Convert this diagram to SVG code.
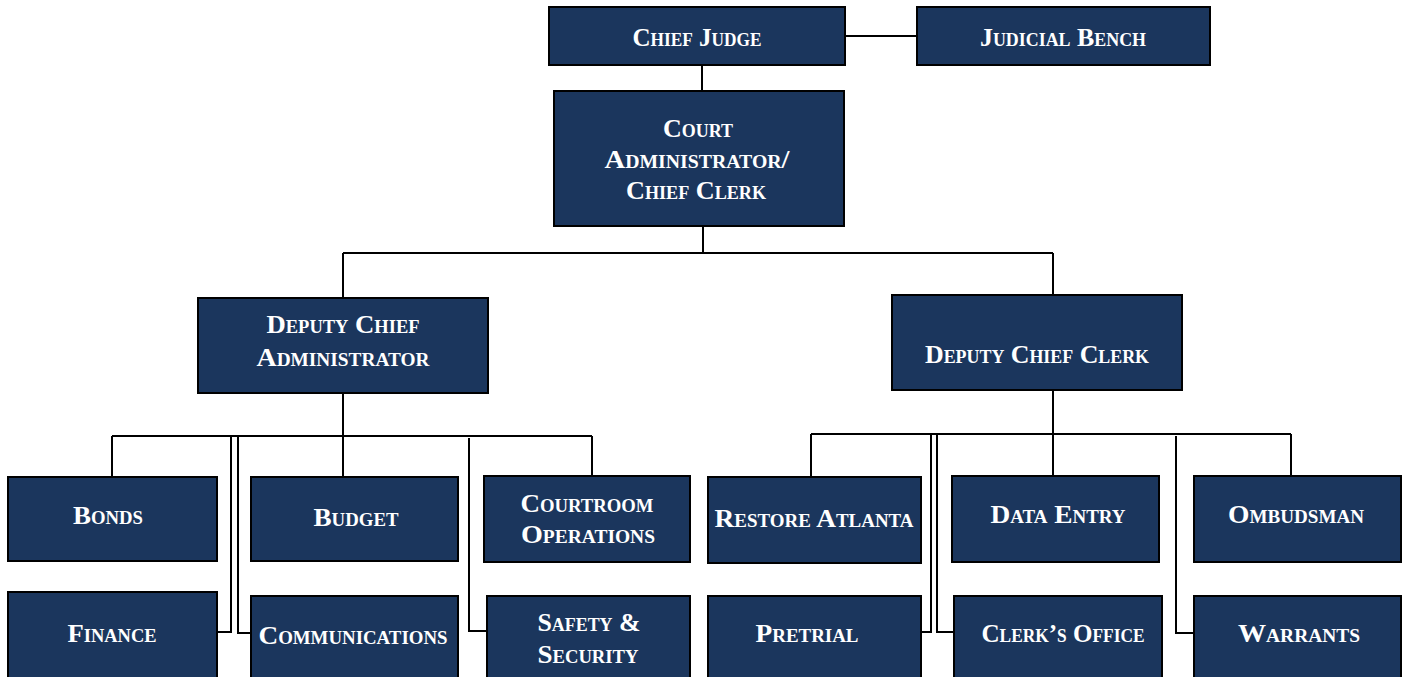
<svg xmlns="http://www.w3.org/2000/svg" width="1403" height="677" viewBox="0 0 1403 677">
<style>
.box{fill:#1b365d;stroke:#000;stroke-width:2}
.t{font-family:"Liberation Serif",serif;font-weight:bold;font-size:26px;font-variant:small-caps;fill:#fff;text-anchor:middle}
.c{fill:none;stroke:#000;stroke-width:2}
</style>
<rect width="1403" height="677" fill="#fff"/>
<g id="connectors">
<path class="c" d="M845 36H917"/>
<path class="c" d="M702 65V91"/>
<path class="c" d="M703 226V253"/>
<path class="c" d="M343 253H1053"/>
<path class="c" d="M343 253V298"/>
<path class="c" d="M1053 253V295"/>
<path class="c" d="M343 393V477"/>
<path class="c" d="M112 436H592"/>
<path class="c" d="M112 436V477"/>
<path class="c" d="M592 436V476"/>
<path class="c" d="M231 436V632H217"/>
<path class="c" d="M238 436V633H251"/>
<path class="c" d="M469 438V631H487"/>
<path class="c" d="M1053 390V476"/>
<path class="c" d="M811 434H1291"/>
<path class="c" d="M811 434V477"/>
<path class="c" d="M1291 434V476"/>
<path class="c" d="M931 434V632H921"/>
<path class="c" d="M937 434V632H954"/>
<path class="c" d="M1176 436V633H1194"/>
</g>
<g id="chief-judge"><rect class="box" x="549" y="7" width="296" height="58"/><text class="t" x="697" y="46" textLength="129" lengthAdjust="spacingAndGlyphs">Chief Judge</text></g>
<g id="judicial-bench"><rect class="box" x="917" y="7" width="293" height="58"/><text class="t" x="1063" y="46" textLength="166" lengthAdjust="spacingAndGlyphs">Judicial Bench</text></g>
<g id="court-administrator"><rect class="box" x="554" y="91" width="290" height="135"/>
<text class="t" x="698" y="137" textLength="70" lengthAdjust="spacingAndGlyphs">Court</text>
<text class="t" x="697" y="168" textLength="185" lengthAdjust="spacingAndGlyphs">Administrator/</text>
<text class="t" x="696" y="199" textLength="140" lengthAdjust="spacingAndGlyphs">Chief Clerk</text></g>
<g id="deputy-chief-administrator"><rect class="box" x="198" y="298" width="290" height="95"/>
<text class="t" x="343" y="333" textLength="153" lengthAdjust="spacingAndGlyphs">Deputy Chief</text>
<text class="t" x="343" y="366" textLength="173" lengthAdjust="spacingAndGlyphs">Administrator</text></g>
<g id="deputy-chief-clerk"><rect class="box" x="892" y="295" width="290" height="95"/>
<text class="t" x="1037" y="363" textLength="224" lengthAdjust="spacingAndGlyphs">Deputy Chief Clerk</text></g>
<g id="bonds"><rect class="box" x="8" y="477" width="209" height="84"/><text class="t" x="108" y="524" textLength="70" lengthAdjust="spacingAndGlyphs">Bonds</text></g>
<g id="budget"><rect class="box" x="251" y="477" width="207" height="84"/><text class="t" x="356" y="526" textLength="85" lengthAdjust="spacingAndGlyphs">Budget</text></g>
<g id="courtroom-operations"><rect class="box" x="484" y="476" width="206" height="86"/>
<text class="t" x="587" y="512" textLength="133" lengthAdjust="spacingAndGlyphs">Courtroom</text>
<text class="t" x="588" y="543" textLength="134" lengthAdjust="spacingAndGlyphs">Operations</text></g>
<g id="finance"><rect class="box" x="8" y="592" width="209" height="92"/><text class="t" x="112" y="642" textLength="89" lengthAdjust="spacingAndGlyphs">Finance</text></g>
<g id="communications"><rect class="box" x="251" y="596" width="207" height="90"/><text class="t" x="353" y="644" textLength="189" lengthAdjust="spacingAndGlyphs">Communications</text></g>
<g id="safety-security"><rect class="box" x="487" y="596" width="203" height="90"/>
<text class="t" x="589" y="631" textLength="103" lengthAdjust="spacingAndGlyphs">Safety &amp;</text>
<text class="t" x="588" y="663" textLength="101" lengthAdjust="spacingAndGlyphs">Security</text></g>
<g id="restore-atlanta"><rect class="box" x="708" y="477" width="213" height="86"/><text class="t" x="814" y="527" textLength="199" lengthAdjust="spacingAndGlyphs">Restore Atlanta</text></g>
<g id="data-entry"><rect class="box" x="952" y="476" width="207" height="86"/><text class="t" x="1058" y="523" textLength="135" lengthAdjust="spacingAndGlyphs">Data Entry</text></g>
<g id="ombudsman"><rect class="box" x="1194" y="476" width="207" height="86"/><text class="t" x="1296" y="523" textLength="136" lengthAdjust="spacingAndGlyphs">Ombudsman</text></g>
<g id="pretrial"><rect class="box" x="708" y="596" width="213" height="90"/><text class="t" x="807" y="642" textLength="103" lengthAdjust="spacingAndGlyphs">Pretrial</text></g>
<g id="clerks-office"><rect class="box" x="954" y="596" width="208" height="90"/><text class="t" x="1063" y="642" textLength="163" lengthAdjust="spacingAndGlyphs">Clerk’s Office</text></g>
<g id="warrants"><rect class="box" x="1194" y="596" width="207" height="90"/><text class="t" x="1299" y="642" textLength="122" lengthAdjust="spacingAndGlyphs">Warrants</text></g>
</svg>
